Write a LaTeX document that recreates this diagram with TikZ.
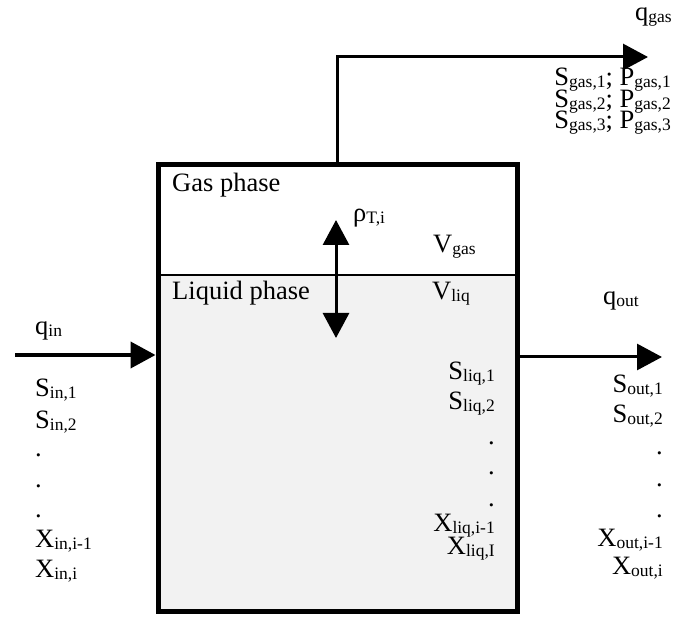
\documentclass[tikz,border=0pt]{standalone}
\usepackage{fontspec}
\setmainfont{Liberation Serif}
\usepackage{xcolor}
\usetikzlibrary{arrows.meta,positioning}
\definecolor{LiquidGray}{HTML}{F2F2F2}
\newcommand{\lowsub}[1]{\raisebox{-2pt}{\fontsize{17.5}{17.5}\selectfont #1}}

\begin{document}
\begin{tikzpicture}[
      x=1pt, y=-1pt,
      font=\fontsize{26.5}{30}\selectfont,
      vessel/.style={draw,line width=5pt,minimum width=359pt,minimum height=447pt,inner sep=0pt},
      flow/.style={->,line width=3pt},
      lbl/.style={inner sep=0pt},
      >={Triangle[length=25pt,width=26pt]}
    ]
      \useasboundingbox (0,0) rectangle (673,617);
      % liquid and tank
      \fill[LiquidGray] (158,275) rectangle (517,612);
      \node[vessel] (tank) at (337.5,388.5) {};
      \coordinate (level) at (158,275);
      \draw[line width=2pt] (level) -- (level -| tank.east);
      % streams
      \coordinate (feed) at (15,355);
      \coordinate (gasend) at (648,57);
      \coordinate (outend) at (662,357);
      \coordinate (rhotop) at (336,220);
      \coordinate (rhobot) at (336,338);
      \draw[flow,line width=4pt] (feed) -- (feed -| tank.west);
      \draw[flow] (tank.north) |- (gasend);
      \draw[flow] (outend -| tank.east) -- (outend);
      \draw[flow,<->] (rhotop) -- (rhobot);
      % labels
      \node[lbl,anchor=base west] (gasphase) at (172,192) {Gas phase};
      \node[lbl,anchor=base west] (liqphase) at (172,300) {Liquid phase};
      \node[lbl,anchor=base west] (rho) at (353,222) {ρ\lowsub{T,i}};
      \node[lbl,anchor=base west] (vgas) at (433,253) {V\lowsub{gas}};
      \node[lbl,anchor=base west] (vliq) at (432,300) {V\lowsub{liq}};
      \node[lbl,anchor=base west] (qin) at (35,335) {q\lowsub{in}};
      \node[lbl,anchor=base west] (qout) at (603,305) {q\lowsub{out}};
      \node[lbl,anchor=base east] (qgas) at (672,21) {q\lowsub{gas}};
      \foreach \k [count=\i] in {1,2,3}
        \node[lbl,anchor=base east] (sgas\i) at (671,64.5+21.5*\i) {S\lowsub{gas,\k}; P\lowsub{gas,\k}};
      \foreach \y/\t [count=\i] in {397/{S\lowsub{in,1}},429/{S\lowsub{in,2}},457/.,488/.,518/.,548/{X\lowsub{in,i-1}},578/{X\lowsub{in,i}}}
        \node[lbl,anchor=base west] (in\i) at (35,\y) {\t};
      \foreach \y/\t [count=\i] in {380/{S\lowsub{liq,1}},410/{S\lowsub{liq,2}},445/.,475/.,507/.,532/{X\lowsub{liq,i-1}},555/{X\lowsub{liq,I}}}
        \node[lbl,anchor=base east] (liq\i) at (495,\y) {\t};
      \foreach \y/\t [count=\i] in {393/{S\lowsub{out,1}},423/{S\lowsub{out,2}},455/.,487/.,518/.,547/{X\lowsub{out,i-1}},575/{X\lowsub{out,i}}}
        \node[lbl,anchor=base east] (out\i) at (663,\y) {\t};
    \end{tikzpicture}
\end{document}
